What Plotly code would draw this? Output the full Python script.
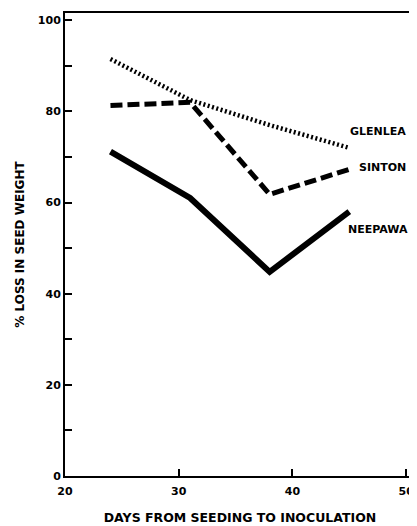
import plotly.graph_objects as go

days = [24, 31, 38, 45]
glenlea = [91.5, 82.5, 77.0, 72.0]
sinton = [81.3, 82.0, 61.8, 67.3]
neepawa = [71.2, 61.0, 44.8, 58.0]

x_ticks = [20, 30, 40, 50]
y_ticks = [0, 10, 20, 30, 40, 50, 60, 70, 80, 90, 100]
y_ticktext = ["0", "", "20", "", "40", "", "60", "", "80", "", "100"]

FONT = "DejaVu Sans"

fig = go.Figure()
fig.add_trace(go.Scatter(x=days, y=glenlea, mode="lines", name="GLENLEA",
                         line=dict(color="black", width=4.5, dash="2px,2.5px")))
fig.add_trace(go.Scatter(x=days, y=sinton, mode="lines", name="SINTON",
                         line=dict(color="black", width=5, dash="12px,5px")))
fig.add_trace(go.Scatter(x=days, y=neepawa, mode="lines", name="NEEPAWA",
                         line=dict(color="black", width=6)))

labels = [("GLENLEA", 44.85, 75.7), ("SINTON", 45.65, 67.6), ("NEEPAWA", 44.7, 54.2)]
for txt, lx, ly in labels:
    fig.add_annotation(x=lx, y=ly, text=txt, showarrow=False, xanchor="left",
                       yanchor="middle",
                       font=dict(family=FONT, size=11, color="black", weight="bold"))

axis_common = dict(showline=True, linecolor="black", linewidth=2, mirror=True,
                   ticks="inside", ticklen=7, tickwidth=2, tickcolor="black",
                   showgrid=False, zeroline=False, automargin=False,
                   tickfont=dict(family=FONT, size=11, color="black", weight="bold"))

# the page body has an 8px margin, so the figure is sized/offset to compensate
fig.update_layout(
    width=409, height=518,
    margin=dict(l=57, r=2, t=5, b=50),
    plot_bgcolor="white", paper_bgcolor="white",
    showlegend=False,
    xaxis=dict(range=[20, 50.78], tickvals=x_ticks, ticklabelstandoff=4,
               title=dict(text="DAYS FROM SEEDING TO INOCULATION", standoff=16,
                          font=dict(family=FONT, size=12.5, color="black", weight="bold")),
               **axis_common),
    yaxis=dict(range=[0, 101.6], tickvals=y_ticks, ticktext=y_ticktext,
               title=dict(text="% LOSS IN SEED WEIGHT", standoff=11,
                          font=dict(family=FONT, size=12, color="black", weight="bold")),
               **axis_common),
)

fig.write_html("out.html")
